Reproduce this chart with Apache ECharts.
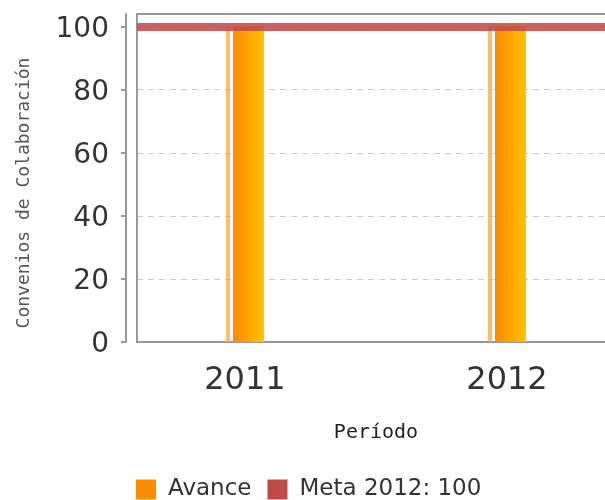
<!DOCTYPE html>
<html>
<head>
<meta charset="utf-8">
<script src="https://cdn.jsdelivr.net/npm/echarts@6/dist/echarts.min.js"></script>
<style>
  html, body { margin: 0; padding: 0; background: #fff; }
  #chart { width: 605px; height: 500px; }
</style>
</head>
<body>
<div id="chart"></div>
<script>
var years = [2011, 2012];
var avance = [100, 100];
var meta = 100;
var yTicks = [0, 20, 40, 60, 80, 100];

var mychart = echarts.init(document.getElementById('chart'));

var barData = years.map(function (y, i) { return [y, avance[i]]; });

// x range a bit wider than the data, as in the original
var xMin = 2010.588, xMax = 2012.374;
var frameLine = { show: true, lineStyle: { color: '#999', width: 2 } };

option = {
    backgroundColor: '#fff',
    animation: false,
    textStyle: { fontFamily: 'DejaVu Sans' },
    grid: {
        left: 137,
        top: 14,
        right: 0,
        bottom: 158
    },
    legend: {
        left: 131,
        bottom: -6,
        itemWidth: 20,
        itemHeight: 20,
        itemGap: 16,
        icon: 'rect',
        textStyle: { fontSize: 23, color: '#333', padding: [0, 0, 0, 7] },
        data: [
            { name: 'Avance', itemStyle: { color: '#FF8C00' } },
            { name: 'Meta 2012: 100', itemStyle: { color: '#BE4B48' } }
        ]
    },
    xAxis: [
        {
            type: 'value',
            min: xMin,
            max: xMax,
            offset: 9,
            name: 'Período',
            nameLocation: 'middle',
            nameGap: 72,
            nameTextStyle: { fontSize: 20, color: '#222', fontFamily: 'DejaVu Sans Mono', padding: [0, 0, 0, 10] },
            axisLine: frameLine,
            axisTick: { show: false },
            splitLine: { show: false },
            axisLabel: {
                customValues: years,
                margin: 14,
                fontSize: 32,
                color: '#333',
                formatter: function (v) { return String(v); }
            }
        },
        {
            type: 'value', min: xMin, max: xMax, position: 'bottom', offset: 0,
            axisLine: frameLine, axisTick: { show: false }, axisLabel: { show: false }, splitLine: { show: false }
        },
        {
            type: 'value', min: xMin, max: xMax, position: 'top', offset: 0,
            axisLine: frameLine, axisTick: { show: false }, axisLabel: { show: false }, splitLine: { show: false }
        }
    ],
    yAxis: [
        {
            type: 'value',
            min: 0,
            max: 104,
            interval: 20,
            offset: 11,
            name: 'Convenios de Colaboración',
            nameLocation: 'middle',
            nameGap: 93,
            nameTextStyle: { fontSize: 18, color: '#555', fontFamily: 'DejaVu Sans Mono', padding: [0, 30, 0, 0] },
            axisLine: frameLine,
            axisTick: { show: true, length: 5, customValues: yTicks, lineStyle: { color: '#999', width: 2 } },
            axisLabel: { customValues: yTicks, margin: 17, fontSize: 28, color: '#333', verticalAlign: 'top', lineHeight: 6 },
            splitLine: { show: true, lineStyle: { color: '#ccc', type: [6, 5], width: 1 } }
        },
        {
            type: 'value', min: 0, max: 104, position: 'left', offset: 0,
            axisLine: frameLine, axisTick: { show: false }, axisLabel: { show: false }, splitLine: { show: false }
        }
    ],
    series: [
        {
            name: 'AvanceBorde',
            type: 'bar',
            data: barData,
            barWidth: 4,
            barGap: '75%',
            itemStyle: { color: 'rgba(255,165,60,0.75)' },
            silent: true
        },
        {
            name: 'Avance',
            type: 'bar',
            data: barData,
            barWidth: 31,
            itemStyle: {
                color: new echarts.graphic.LinearGradient(0, 0, 1, 0, [
                    { offset: 0, color: '#FF8800' },
                    { offset: 1, color: '#FFC400' }
                ])
            }
        },
        {
            name: 'Meta 2012: 100',
            type: 'line',
            data: [],
            itemStyle: { color: '#BE4B48' },
            markLine: {
                silent: true,
                symbol: 'none',
                label: { show: false },
                z: 10,
                lineStyle: { color: 'rgba(192,72,70,0.85)', width: 8, type: 'solid' },
                data: [{ yAxis: meta }]
            }
        }
    ]
};
mychart.setOption(option, true);
</script>
</body>
</html>
